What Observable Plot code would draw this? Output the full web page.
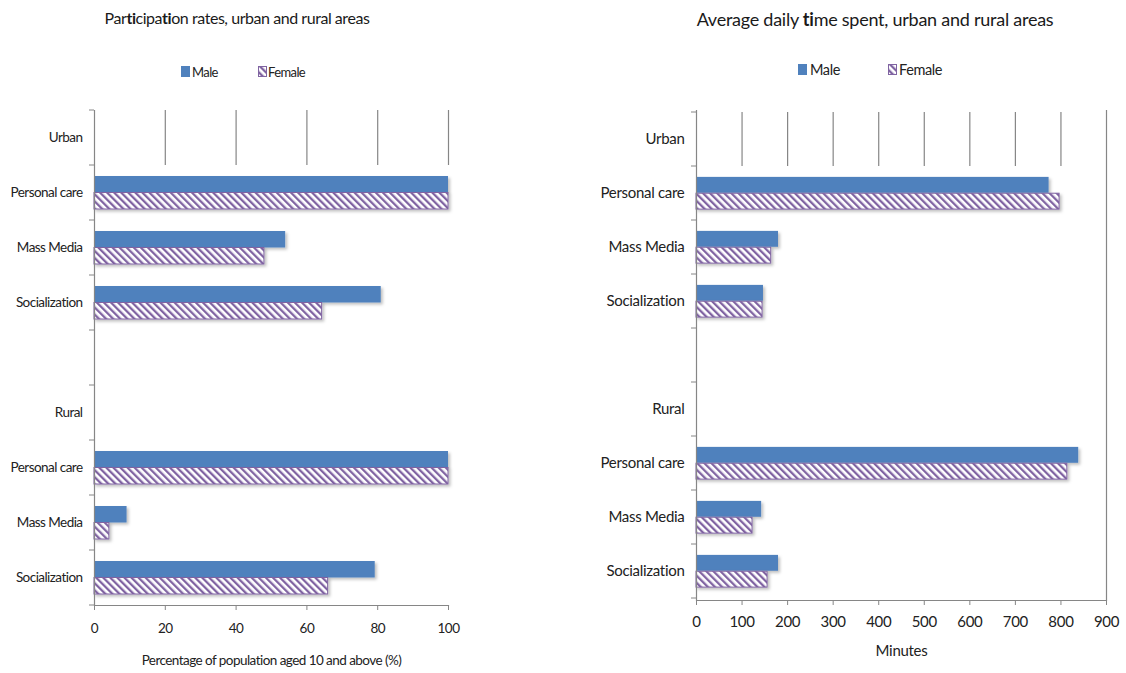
<!DOCTYPE html>
<html>
<head>
<meta charset="utf-8">
<script src="https://cdn.jsdelivr.net/npm/d3@7"></script>
<script src="https://cdn.jsdelivr.net/npm/@observablehq/plot@0.6"></script>
<style>
  html, body { margin: 0; padding: 0; background: #fff; }
  body { width: 1126px; height: 673px; position: relative; overflow: hidden;
         font-family: Lato, 'DejaVu Sans Condensed', sans-serif; color: #222; }
  .title { position: absolute; white-space: nowrap; transform: translateX(-50%); color: #1a1a1a; }
  .title b { font-weight: bold; }
  .leg { position: absolute; white-space: nowrap; color: #222; }
  .sw { position: absolute; width: 9px; height: 11px; }
  .chart { position: absolute; }
</style>
</head>
<body>
<svg width="0" height="0" style="position:absolute">
  <defs>
    <pattern id="hatch" patternUnits="userSpaceOnUse" width="5" height="5" patternTransform="rotate(-45)">
      <rect width="5" height="5" fill="#ffffff"></rect>
      <rect x="0" y="0" width="2.3" height="5" fill="#8064a2"></rect>
    </pattern>
    <filter id="shadow" x="-5%" y="-20%" width="115%" height="160%">
      <feDropShadow dx="2" dy="2" stdDeviation="1.5" flood-color="#000" flood-opacity="0.25"></feDropShadow>
    </filter>
  </defs>
</svg>

<div class="title" style="left:237px; top:8px; font-size:16px; letter-spacing:-0.45px;">Par<b>ti</b>cipa<b>ti</b>on rates, urban and rural areas</div>
<div class="sw" style="left:181px; top:66px; background:#4f81bd;"></div>
<div class="leg" style="left:192px; top:64px; font-size:13px; letter-spacing:-0.6px;">Male</div>
<div class="sw" style="left:258px; top:66px; border:1px solid #8064a2; width:7px; height:9px;" id="swL"></div>
<div class="leg" style="left:268px; top:64px; font-size:13px; letter-spacing:-0.6px;">Female</div>
<div class="chart" id="chartL" style="left:0px; top:80px;"></div>

<div class="title" style="left:875px; top:8px; font-size:18px; letter-spacing:-0.25px;">Average daily <b>ti</b>me spent, urban and rural areas</div>
<div class="sw" style="left:798px; top:64px; background:#4f81bd;"></div>
<div class="leg" style="left:810px; top:61px; font-size:14.5px; letter-spacing:-0.4px;">Male</div>
<div class="sw" style="left:888px; top:64px; border:1px solid #8064a2; width:7px; height:9px;" id="swR"></div>
<div class="leg" style="left:899px; top:61px; font-size:14.5px; letter-spacing:-0.4px;">Female</div>
<div class="chart" id="chartR" style="left:560px; top:80px;"></div>

<script>
// ---- data ----
const rowKeys = ["Urban", "U:Personal care", "U:Mass Media", "U:Socialization", "gap",
                 "Rural", "R:Personal care", "R:Mass Media", "R:Socialization"];
const rowLabels = ["Urban", "Personal care", "Mass Media", "Socialization", "",
                   "Rural", "Personal care", "Mass Media", "Socialization"];
const activities = ["Personal care", "Mass Media", "Socialization"];

// Participation rates (%)
const partMaleUrban   = [100, 54, 81];
const partFemaleUrban = [100, 48, 64.3];
const partMaleRural   = [100, 9.2, 79.3];
const partFemaleRural = [100, 4.2, 66];
const partTicks = [0, 20, 40, 60, 80, 100];

// Average daily time (minutes)
const timeMaleUrban   = [774, 180, 147];
const timeFemaleUrban = [797, 164, 145];
const timeMaleRural   = [839, 143, 180];
const timeFemaleRural = [814, 123, 156];
const timeTicks = [0, 100, 200, 300, 400, 500, 600, 700, 800, 900];

const FONT = "Lato, 'DejaVu Sans Condensed', sans-serif";
const MALE = "#4f81bd", FEM = "#8064a2", AXIS = "#868686";

// hatch swatches for legend (SVG)
for (const id of ["swL", "swR"]) {
  const el = document.getElementById(id);
  el.innerHTML = `<svg width="7" height="9" style="display:block"><rect width="7" height="9" fill="url(#hatch)"></rect></svg>`;
}

function buildRows(maleU, femU, maleR, femR) {
  const rows = [];
  activities.forEach((a, i) => {
    rows.push({key: "U:" + a, male: maleU[i], female: femU[i]});
    rows.push({key: "R:" + a, male: maleR[i], female: femR[i]});
  });
  return rows;
}

function makeChart({el, rows, ticks, domain, width, height, marginLeft, marginRight, marginTop, marginBottom,
                    label, tickPadding, labelOffset, gridTicks, fullTicks, fontSize, letterSpacing}) {
  const innerH = height - marginTop - marginBottom;
  const step = innerH / rowKeys.length;
  const half = step / 2;
  const barH = step * 0.3;
  const gapIn = half - barH;
  const labelOf = k => rowLabels[rowKeys.indexOf(k)];

  const boundaryTicks = (index, scales) => {
    const g = document.createElementNS("http://www.w3.org/2000/svg", "g");
    const y = scales.y;
    const ys = rowKeys.map(k => y(k));
    ys.push(y(rowKeys[rowKeys.length - 1]) + y.bandwidth());
    for (const yy of ys) {
      const l = document.createElementNS("http://www.w3.org/2000/svg", "line");
      l.setAttribute("x1", marginLeft - 5); l.setAttribute("x2", marginLeft);
      l.setAttribute("y1", yy); l.setAttribute("y2", yy);
      l.setAttribute("stroke", AXIS);
      g.appendChild(l);
    }
    return g;
  };

  const chart = Plot.plot({
    width, height, marginLeft, marginRight, marginTop, marginBottom,
    style: {fontFamily: FONT, fontSize: fontSize + "px", color: "#222", background: "transparent", letterSpacing},
    x: {domain, ticks, label: null},
    y: {domain: rowKeys, padding: 0, label: null},
    marks: [
      Plot.ruleX(gridTicks, {x: d => d, y1: () => "Urban", y2: () => "Urban", stroke: AXIS, strokeWidth: 1.2}),
      Plot.ruleX(fullTicks, {x: d => d, stroke: AXIS, strokeWidth: 1.2}),
      Plot.barX(rows, {x: "male", y: "key", fill: MALE, insetTop: gapIn, insetBottom: half, className: "bars"}),
      Plot.barX(rows, {x: "female", y: "key", fill: "url(#hatch)", stroke: FEM, strokeWidth: 1,
                       insetTop: half, insetBottom: gapIn, className: "bars"}),
      Plot.ruleX([domain[0]], {stroke: AXIS, strokeWidth: 1.2}),
      Plot.frame({anchor: "bottom", stroke: AXIS, strokeWidth: 1.2}),
      Plot.axisX({ticks, tickSize: 5, tickPadding, stroke: AXIS, fontSize, color: "#222",
                  label, labelAnchor: "center", labelArrow: "none", labelOffset}),
      Plot.axisY({tickSize: 0, tickPadding: 12, tickFormat: labelOf, fontSize}),
      boundaryTicks
    ]
  });
  chart.querySelectorAll("g.bars").forEach(g => g.setAttribute("filter", "url(#shadow)"));
  document.getElementById(el).appendChild(chart);
}

makeChart({
  el: "chartL",
  rows: buildRows(partMaleUrban, partFemaleUrban, partMaleRural, partFemaleRural),
  ticks: partTicks, domain: [0, 100],
  width: 470, height: 590, marginLeft: 94, marginRight: 22, marginTop: 30, marginBottom: 65,
  label: "Percentage of population aged 10 and above (%)", tickPadding: 13, labelOffset: 59,
  gridTicks: [20, 40, 60, 80, 100], fullTicks: [], fontSize: 13.5, letterSpacing: "-0.55px"
});

makeChart({
  el: "chartR",
  rows: buildRows(timeMaleUrban, timeFemaleUrban, timeMaleRural, timeFemaleRural),
  ticks: timeTicks, domain: [0, 900],
  width: 566, height: 585, marginLeft: 136, marginRight: 20, marginTop: 30, marginBottom: 65,
  label: "Minutes", tickPadding: 11, labelOffset: 55,
  gridTicks: [100, 200, 300, 400, 500, 600, 700, 800], fullTicks: [900], fontSize: 15, letterSpacing: "-0.3px"
});
</script>
</body>
</html>
